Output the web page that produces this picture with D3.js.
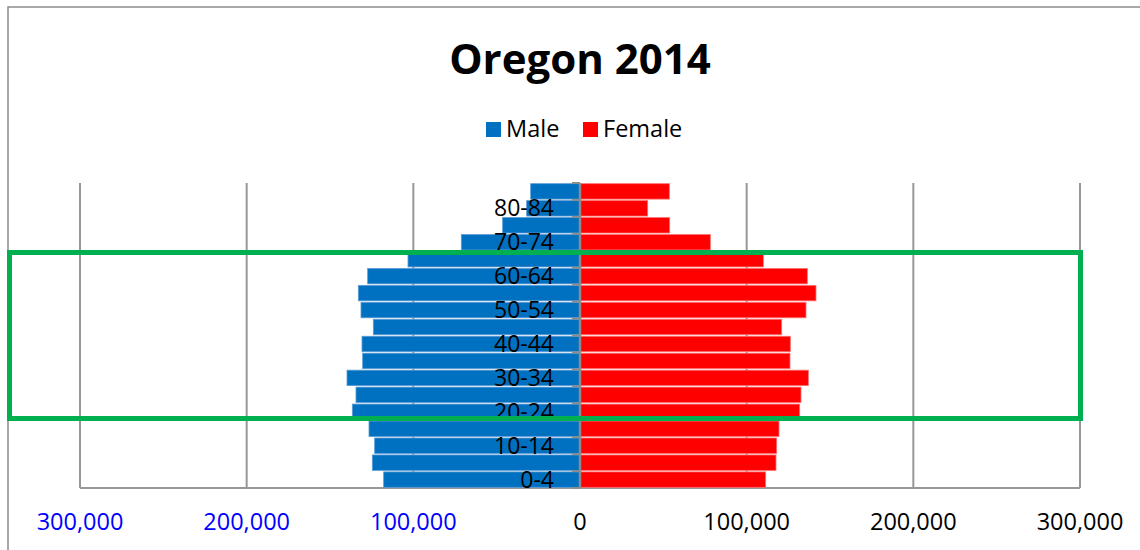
<!DOCTYPE html>
<html>
<head>
<meta charset="utf-8">
<script src="https://cdn.jsdelivr.net/npm/d3@7"></script>
<style>
  body { margin: 0; background: #fff; }
  text { font-family: "Open Sans", sans-serif; }
</style>
</head>
<body>
<script>
/*** data ***/
const ages = ["0-4", "5-9", "10-14", "15-19", "20-24", "25-29", "30-34", "35-39", "40-44",
  "45-49", "50-54", "55-59", "60-64", "65-69", "70-74", "75-79", "80-84", "85+"];
const male = [117800, 124600, 123200, 126600, 136600, 134400, 139800, 130400, 130800,
  124000, 131400, 133000, 127400, 103200, 71200, 46400, 32000, 29600];
const female = [111400, 117600, 118000, 119400, 131800, 132600, 137000, 126000, 126200,
  121000, 135600, 141600, 136400, 110000, 78200, 53800, 40600, 53600];
const ticks = [-300000, -200000, -100000, 0, 100000, 200000, 300000];
const series = ["Male", "Female"];
const colors = ["#0070C0", "#FF0000"];

/*** global variable/s ***/
const width = 1140, height = 550;
const plotLeft = 80, plotRight = 1080, plotTop = 183, plotBottom = 488;

const svg = d3.select("body")
  .append("svg")
  .attr("width", width)
  .attr("height", height);

// chart frame (cut off at right/bottom)
svg.append("path")
  .attr("d", `M8,${height}V7H${width}`)
  .attr("fill", "none")
  .attr("stroke", "#8c8c8c")
  .attr("stroke-width", 1.5);

const x = d3.scaleLinear().domain([-300000, 300000]).range([plotLeft, plotRight]);
const y = d3.scaleBand().domain(ages).range([plotBottom, plotTop]).paddingInner(0.09).paddingOuter(0.04);

// gridlines
svg.append("g")
  .selectAll("line")
  .data(ticks.filter(d => d !== 0))
  .join("line")
  .attr("x1", d => x(d)).attr("x2", d => x(d))
  .attr("y1", plotTop).attr("y2", plotBottom)
  .attr("stroke", "#979797")
  .attr("stroke-width", 2);

// bottom axis line
svg.append("line")
  .attr("x1", plotLeft).attr("x2", plotRight)
  .attr("y1", plotBottom).attr("y2", plotBottom)
  .attr("stroke", "#979797")
  .attr("stroke-width", 2);

// bars
const bars = svg.append("g");
bars.selectAll("rect.m")
  .data(ages)
  .join("rect")
  .attr("class", "m")
  .attr("x", (d, i) => x(-male[i]))
  .attr("y", d => y(d))
  .attr("width", (d, i) => x(0) - x(-male[i]))
  .attr("height", y.bandwidth())
  .attr("fill", colors[0])
  .attr("stroke", "#5b9bd5")
  .attr("stroke-width", 0.8);

bars.selectAll("rect.f")
  .data(ages)
  .join("rect")
  .attr("class", "f")
  .attr("x", x(0))
  .attr("y", d => y(d))
  .attr("width", (d, i) => x(female[i]) - x(0))
  .attr("height", y.bandwidth())
  .attr("fill", colors[1])
  .attr("stroke", "#ff7070")
  .attr("stroke-width", 0.8);

// vertical category axis with tick marks
const bounds = d3.range(ages.length + 1).map(i => plotBottom - i * (plotBottom - plotTop) / ages.length);
svg.append("g")
  .selectAll("line")
  .data(bounds)
  .join("line")
  .attr("x1", x(0) - 8).attr("x2", x(0))
  .attr("y1", d => d).attr("y2", d => d)
  .attr("stroke", "#8c8c8c")
  .attr("stroke-width", 2);

svg.append("line")
  .attr("x1", x(0)).attr("x2", x(0))
  .attr("y1", plotTop).attr("y2", plotBottom)
  .attr("stroke", "#8c8c8c")
  .attr("stroke-width", 2.5);

// category labels (every other)
svg.append("g")
  .selectAll("text")
  .data(ages.filter((d, i) => i % 2 === 0))
  .join("text")
  .attr("x", x(0) - 26)
  .attr("y", d => y(d) + y.bandwidth() / 2 + 8)
  .attr("text-anchor", "end")
  .attr("font-size", 23)
  .attr("fill", "#000")
  .text(d => d);

// value tick labels
svg.append("g")
  .selectAll("text")
  .data(ticks)
  .join("text")
  .attr("x", d => x(d))
  .attr("y", 530)
  .attr("text-anchor", "middle")
  .attr("font-size", 23.5)
  .attr("fill", d => d < 0 ? "#0000FF" : "#000")
  .text(d => d3.format(",")(Math.abs(d)));

// title
svg.append("text")
  .attr("x", 580)
  .attr("y", 74)
  .attr("text-anchor", "middle")
  .attr("font-size", 42)
  .attr("font-weight", "bold")
  .text("Oregon 2014");

// legend
const legend = svg.append("g");
const legendX = [486, 583];
series.forEach((s, i) => {
  legend.append("rect")
    .attr("x", legendX[i]).attr("y", 122)
    .attr("width", 15).attr("height", 15)
    .attr("fill", colors[i]);
  legend.append("text")
    .attr("x", legendX[i] + 20).attr("y", 137)
    .attr("font-size", 23.5)
    .text(s);
});

// highlight box
svg.append("rect")
  .attr("x", 9.5).attr("y", 252.5)
  .attr("width", 1071).attr("height", 166)
  .attr("fill", "none")
  .attr("stroke", "#00B050")
  .attr("stroke-width", 5);
</script>
</body>
</html>
